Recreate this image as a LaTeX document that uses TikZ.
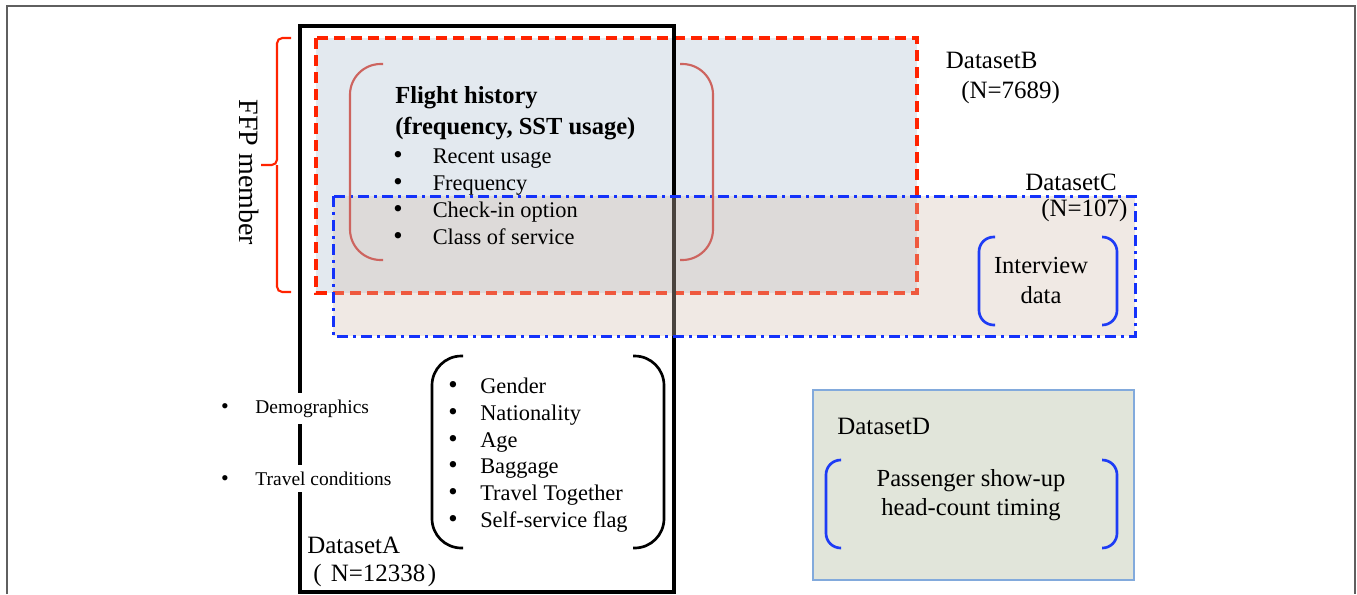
\documentclass[tikz,border=0pt]{standalone}
\usepackage{fontspec}
\setmainfont{Liberation Serif}
\definecolor{bfill}{RGB}{227,233,239}
\definecolor{cfill}{RGB}{212,192,178}
\definecolor{bred}{RGB}{255,35,0}
\definecolor{cblue}{RGB}{20,50,250}
\definecolor{fhred}{RGB}{205,100,95}
\definecolor{dfill}{RGB}{225,229,218}
\definecolor{dline}{RGB}{130,170,220}
\definecolor{brblue}{RGB}{30,60,245}
\definecolor{framec}{RGB}{95,95,95}
\begin{document}
\begin{tikzpicture}[x=0.75pt,y=-0.75pt,
  body/.style={font=\fontsize{16.8}{20}\selectfont, inner sep=0pt, anchor=base west},
  bul/.style={font=\fontsize{20}{20}\selectfont, inner sep=0pt, anchor=base},
  ttl/.style={font=\bfseries\fontsize{18.4}{22}\selectfont, inner sep=0pt, anchor=base west},
  lbl/.style={font=\fontsize{18.7}{22}\selectfont, inner sep=0pt, anchor=base west},
  mid/.style={font=\fontsize{18.4}{22}\selectfont, inner sep=0pt, anchor=base},
  smalltxt/.style={font=\fontsize{14.6}{17}\selectfont, anchor=base west, fill=white, inner xsep=2pt, inner ysep=5pt},
  smallbul/.style={font=\fontsize{16.5}{17}\selectfont, inner sep=0pt, anchor=base},
  fhbracket/.style={draw=fhred, line width=1.6pt, rounded corners=23pt},
  blbracket/.style={draw=black, line width=2pt, rounded corners=22pt},
  bubracket/.style={draw=brblue, line width=2pt, rounded corners=11pt},
]
\useasboundingbox (0,0) rectangle (1357,594);
% outer frame
\draw[framec, line width=1.1pt] (7,594) -- (7,6) -- (1355,6) -- (1355,594);
% Dataset B
\fill[bfill] (316,38) rectangle (917,293);
\draw[bred, line width=2.6pt, dash pattern=on 8.25pt off 4.5pt] (316,38) rectangle (917,293);
% Dataset A
\draw[black, line width=2.6pt] (300,26) rectangle (674,592);
% Dataset C
\fill[cfill, fill opacity=0.35] (333,196) rectangle (1135,336);
\draw[cblue, line width=2.25pt, dash pattern=on 8.25pt off 3.75pt on 2.25pt off 3.75pt] (333,196) rectangle (1135,336);
% Dataset D
\draw[dline, fill=dfill, line width=0.9pt] (813,390) rectangle (1134,580);

% FFP brace
\draw[bred, line width=1.6pt, rounded corners=4pt] (291,38) -- (277,38) -- (277,165) -- (261,165);
\draw[bred, line width=1.6pt, rounded corners=4pt] (291,292) -- (277,292) -- (277,165);
\node[rotate=-90, font=\fontsize{21}{24}\selectfont, inner sep=0pt] (ffp) at (249,172.5) {FFP member};

% Flight history brackets
\draw[fhbracket] (383,64) -- (350,64) -- (350,260) -- (383,260);
\draw[fhbracket] (680,64) -- (713,64) -- (713,260) -- (680,260);
\node[ttl] (fh1) at (395,103.6) {Flight history};
\node[ttl] (fh2) at (395,134) {(frequency, SST usage)};
\node[bul] (fb1) at (398,163) {\textbullet};
\node[body] (f1) at (432.5,163) {Recent usage};
\node[bul] (fb2) at (398,190.5) {\textbullet};
\node[body] (f2) at (432.5,190.5) {Frequency};
\node[bul] (fb3) at (398,217.5) {\textbullet};
\node[body] (f3) at (432.5,217.5) {Check-in option};
\node[bul] (fb4) at (398,244.5) {\textbullet};
\node[body] (f4) at (432.5,244.5) {Class of service};

% Dataset B / C labels
\node[lbl] (bl1) at (945.7,68.5) {DatasetB};
\node[lbl] (bl2) at (961,98.5) {(N=7689)};
\node[lbl] (cl1) at (1025,190) {DatasetC};
\node[lbl] (cl2) at (1041,216.5) {(N=107)};

% Interview data
\draw[bubracket] (995,237) -- (979,237) -- (979,325) -- (995,325);
\draw[bubracket] (1102,237) -- (1117,237) -- (1117,325) -- (1102,325);
\node[mid] (iv1) at (1041,273.5) {Interview};
\node[mid] (iv2) at (1041,303.5) {data};

% Dataset A items
\draw[blbracket] (463,356) -- (432,356) -- (432,548) -- (463,548);
\draw[blbracket] (633,356) -- (664,356) -- (664,548) -- (633,548);
\node[bul] (ab1) at (453,393) {\textbullet};
\node[body] (a1) at (480,393) {Gender};
\node[bul] (ab2) at (453,420) {\textbullet};
\node[body] (a2) at (480,420) {Nationality};
\node[bul] (ab3) at (453,447) {\textbullet};
\node[body] (a3) at (480,447) {Age};
\node[bul] (ab4) at (453,473.5) {\textbullet};
\node[body] (a4) at (480,473.5) {Baggage};
\node[bul] (ab5) at (453,500.5) {\textbullet};
\node[body] (a5) at (480,500.5) {Travel Together};
\node[bul] (ab6) at (453,527) {\textbullet};
\node[body] (a6) at (480,527) {Self-service flag};

\node[smallbul] (db) at (225,413.6) {\textbullet};
\node[smalltxt] (demo) at (252.5,413.6) {Demographics};
\node[smallbul] (tb) at (225,485.6) {\textbullet};
\node[smalltxt] (trav) at (252.5,485.6) {Travel conditions};

\node[lbl] (al1) at (307,553.7) {DatasetA};
\node[lbl] (al2) at (313,581.5) {(\kern7pt N=12338\kern2pt)};

% Dataset D
\node[lbl] (dl1) at (837,434.5) {DatasetD};
\draw[bubracket] (841,460) -- (826,460) -- (826,548) -- (841,548);
\draw[bubracket] (1102,460) -- (1117,460) -- (1117,548) -- (1102,548);
\node[mid] (dt1) at (971,486.5) {Passenger show-up};
\node[mid] (dt2) at (971,515) {head-count timing};
\end{tikzpicture}
\end{document}
